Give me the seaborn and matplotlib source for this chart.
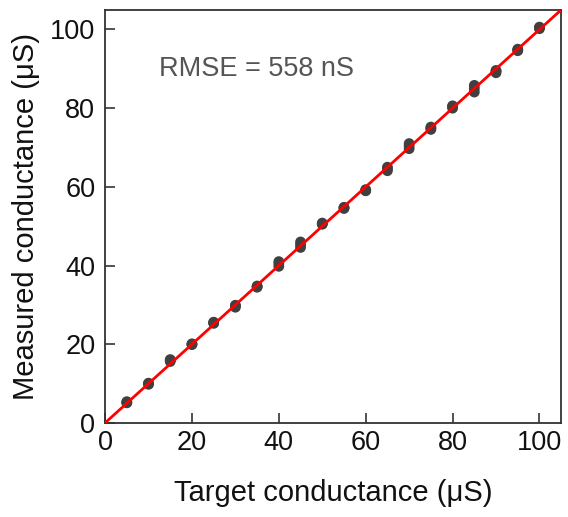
import matplotlib
matplotlib.use("Agg")
import matplotlib.pyplot as plt
import numpy as np
import pandas as pd
import seaborn as sns

# target conductance (uS), three readings per target
targets = [5, 10, 15, 20, 25, 30, 35, 40, 45, 50,
           55, 60, 65, 70, 75, 80, 85, 90, 95, 100]
reading_1 = [5.1, 9.8, 15.6, 19.9, 25.3, 29.4, 34.5, 39.8, 44.6, 50.5,
             54.5, 59.0, 64.1, 69.7, 74.6, 80.0, 84.1, 89.0, 94.6, 100.2]
reading_2 = [5.4, 10.1, 15.9, 20.1, 25.6, 29.8, 34.8, 40.5, 45.3, 50.8,
             54.7, 59.3, 64.6, 70.4, 74.9, 80.4, 85.0, 89.4, 94.8, 100.5]
reading_3 = [5.2, 10.0, 16.1, 20.0, 25.5, 29.9, 34.6, 41.0, 46.0, 50.6,
             54.8, 59.1, 65.0, 71.0, 75.2, 80.6, 85.8, 89.6, 95.0, 100.6]
ideal = [0, 105]

df = pd.DataFrame({
    "target": targets * 3,
    "measured": reading_1 + reading_2 + reading_3,
})

sns.set_style("ticks")
plt.rcParams["font.family"] = ["Liberation Sans", "DejaVu Sans"]

fig = plt.figure(figsize=(5.68, 5.17), dpi=100)
ax = fig.add_axes([0.185, 0.182, 0.803, 0.799])

sns.scatterplot(data=df, x="target", y="measured", ax=ax,
                color="#404040", s=60, edgecolor="none", zorder=2)
sns.lineplot(x=ideal, y=ideal, ax=ax, color="#ff0000", linewidth=2, zorder=3)

ax.set_xlim(0, 105)
ax.set_ylim(0, 105)
ax.set_xticks([0, 20, 40, 60, 80, 100])
ax.set_yticks([0, 20, 40, 60, 80, 100])
ax.tick_params(direction="in", length=7, width=1.2, colors="#333333",
               labelsize=19.5, labelcolor="#111111",
               top=False, right=False)
ax.tick_params(axis="x", pad=5)
ax.tick_params(axis="y", pad=7)
for side in ax.spines.values():
    side.set_visible(True)
    side.set_linewidth(1.3)
    side.set_color("#333333")

ax.set_xlabel("Target conductance (\u03bcS)", fontsize=21, color="#111111", labelpad=17)
ax.set_ylabel("Measured conductance (\u03bcS)", fontsize=21, color="#111111", labelpad=7)

ax.text(12.5, 90, "RMSE = 558 nS", fontsize=19.5, color="#555555", va="center")

fig.savefig("out.png", dpi=100)
